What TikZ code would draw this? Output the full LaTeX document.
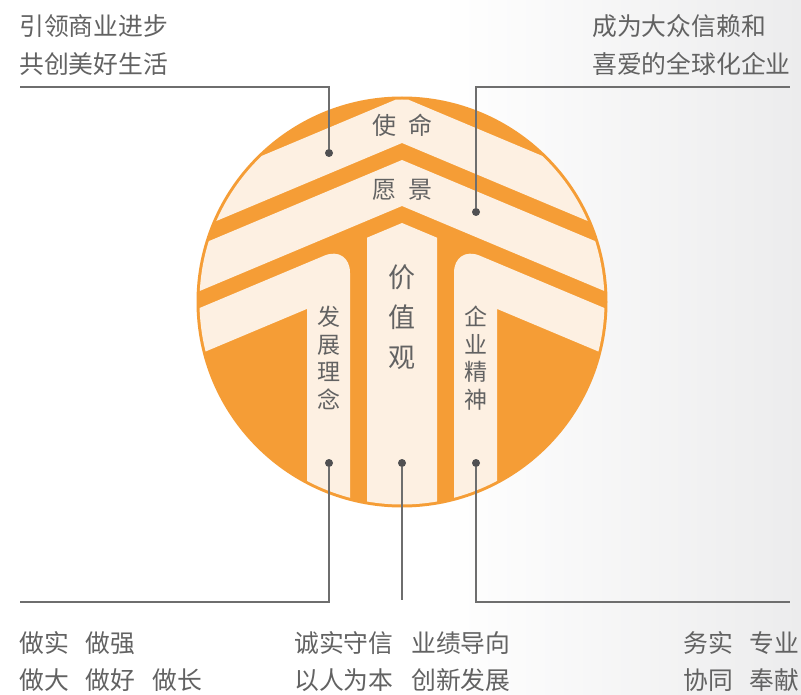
\documentclass[tikz,border=0pt]{standalone}
\usepackage{fontspec}
\newfontfamily\cjk{Noto Sans CJK SC}
\definecolor{orng}{RGB}{245,157,54}
\definecolor{cream}{RGB}{253,240,226}
\definecolor{txtgray}{RGB}{98,98,98}
\definecolor{linegray}{RGB}{110,110,110}
\definecolor{dotgray}{RGB}{80,80,82}
\definecolor{bggray}{RGB}{236,236,237}
\begin{document}
\begin{tikzpicture}[x=1pt,y=-1pt,
  lbl/.style={inner sep=0pt,anchor=west,text=txtgray,font=\cjk\fontsize{24.8}{24.8}\selectfont},
  inlbl/.style={inner sep=0pt,text=txtgray,align=center},
  dotnode/.style={circle,fill=dotgray,inner sep=0pt,minimum size=8pt},
  leader/.style={draw=linegray,line width=1.3pt}]
\useasboundingbox (0,0) rectangle (801,695);
\fill[white] (0,0) rectangle (801,695);
\shade[left color=white,right color=bggray] (440,0) rectangle (801,695);
% circle
\fill[orng] (402,302) circle[radius=205.5pt];
\begin{scope}
\clip (402,302) circle[radius=202.5pt];
\fill[cream] (150,202.84) -- (402,97) -- (654,202.84) -- (654,248.84) -- (402,143) -- (150,248.84) -- cycle;
\fill[cream] (150,265.84) -- (402,160) -- (654,265.84) -- (654,311.84) -- (402,206) -- (150,311.84) -- cycle;
\fill[cream] (150,328.84) -- (324.2,255.7) .. controls (338.4,249.7) and (350,257.4) .. (350,272.84) -- (350,520) -- (307,520) -- (307,308.9) -- (150,374.84) -- cycle;
\fill[cream] (654,328.84) -- (479.8,255.7) .. controls (465.6,249.7) and (454,257.4) .. (454,272.84) -- (454,520) -- (497,520) -- (497,308.9) -- (654,374.84) -- cycle;
\fill[cream] (367,520) -- (367,237.7) -- (402,223) -- (437,237.7) -- (437,520) -- cycle;
\end{scope}
% inner labels
\node[inlbl,font=\cjk\fontsize{24}{24}\selectfont] (mission) at (402,125) {使\hspace{12pt}命};
\node[inlbl,font=\cjk\fontsize{24}{24}\selectfont] (vision) at (402,190) {愿\hspace{12pt}景};
\node[inlbl,font=\cjk\fontsize{27}{40}\selectfont] (values) at (402,317) {价\\值\\观};
\node[inlbl,font=\cjk\fontsize{23}{27.5}\selectfont] (idea) at (328.5,358) {发\\展\\理\\念};
\node[inlbl,font=\cjk\fontsize{23}{27.5}\selectfont] (spirit) at (475.5,358) {企\\业\\精\\神};
% dots
\node[dotnode] (d1) at (329,153) {};
\node[dotnode] (d2) at (476,212) {};
\node[dotnode] (d3) at (329,463) {};
\node[dotnode] (d4) at (402,463) {};
\node[dotnode] (d5) at (476,463) {};
% leader ends
\coordinate (e1) at (20,87);
\coordinate (e2) at (790,87);
\coordinate (e3) at (20,602);
\coordinate (e4) at (402,600);
\coordinate (e5) at (790,602);
\draw[leader] (d1) |- (e1);
\draw[leader] (d2) |- (e2);
\draw[leader] (d3) |- (e3);
\draw[leader] (d4) -- (e4);
\draw[leader] (d5) |- (e5);
% outer texts
\node[lbl] (t1) at (19,26) {引领商业进步};
\node[lbl] (t2) at (19,64) {共创美好生活};
\node[lbl] (t3) at (592,26) {成为大众信赖和};
\node[lbl] (t4) at (592,64) {喜爱的全球化企业};
\node[lbl] (b1) at (19,643) {做实\hspace{17pt}做强};
\node[lbl] (b2) at (19,680) {做大\hspace{17pt}做好\hspace{17pt}做长};
\node[lbl] (b3) at (294,643) {诚实守信\hspace{18pt}业绩导向};
\node[lbl] (b4) at (294,680) {以人为本\hspace{18pt}创新发展};
\node[lbl] (b5) at (683,643) {务实\hspace{17pt}专业};
\node[lbl] (b6) at (683,680) {协同\hspace{17pt}奉献};
\end{tikzpicture}
\end{document}
